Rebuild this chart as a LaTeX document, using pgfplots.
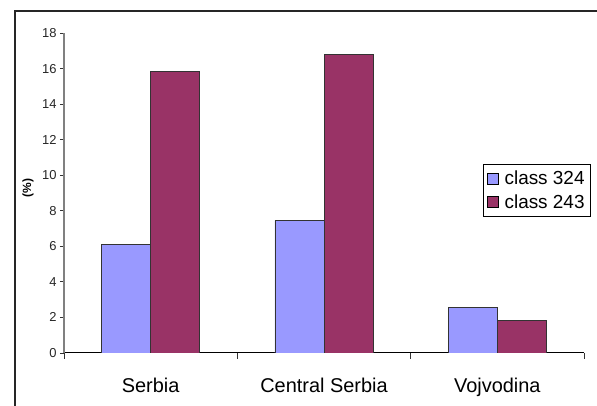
\documentclass[border=0pt]{standalone}
\usepackage{pgfplots}
\pgfplotsset{compat=1.18}
\usepackage{fontspec}
\setmainfont{Liberation Sans}
\definecolor{cblue}{HTML}{9999FF}
\definecolor{cred}{HTML}{993366}
\begin{document}
\begin{tikzpicture}
\useasboundingbox (0,0) rectangle (597bp,406bp);
\draw[line width=1.3bp, black!85] (15bp,0bp) -- (15bp,395bp) -- (597bp,395bp);
\begin{axis}[
  at={(64bp,53bp)}, anchor=south west,
  scale only axis, width=520bp, height=320bp,
  ybar=0pt, bar width=0.283,
  xmin=-0.5, xmax=2.5, ymin=0, ymax=18,
  axis lines*=left,
  x axis line style={black, line width=1bp},
  y axis line style={gray, line width=1.2bp},
  xtick={0,1,2},
  xticklabels={Serbia,Central Serbia,Vojvodina},
  x tick style={draw=none},
  minor xtick={-0.5,0.5,1.5,2.5},
  minor x tick style={draw=black!80, line width=0.9bp},
  minor tick length=6bp,
  ytick={0,2,...,18},
  y tick style={draw=black!80, line width=0.9bp},
  major tick length=4bp,
  tick align=outside,
  /pgf/number format/assume math mode=true,
  yticklabel style={font=\fontsize{13}{15}\selectfont, text=black!85},
  xticklabel style={font=\fontsize{20}{24}\selectfont, anchor=base, yshift=-35bp},
  ylabel={\textbf{(\%)}},
  ylabel style={font=\fontsize{12}{14}\selectfont, at={(axis description cs:-0.0692,0.516)}, anchor=center, rotate=0},
  legend style={at={(axis description cs:0.805,0.590)}, anchor=north west,
    draw=black, fill=white, line width=0.8bp,
    font=\fontsize{19}{21}\selectfont, inner xsep=4bp, inner ysep=4.5bp,
    row sep=4bp, cells={anchor=west},
    /tikz/every odd column/.style={column sep=4bp}},
  legend image code/.code={\draw[#1, draw=black, line width=0.6bp] (0bp,-5.5bp) rectangle (11bp,5.5bp);},
]
\addplot[fill=cblue, draw=black!80, line width=0.8bp] coordinates {(0,6.1) (1,7.44) (2,2.57)};
\addplot[fill=cred, draw=black!80, line width=0.8bp] coordinates {(0,15.82) (1,16.8) (2,1.84)};
\legend{class 324, class 243}
\end{axis}
\end{tikzpicture}
\end{document}
